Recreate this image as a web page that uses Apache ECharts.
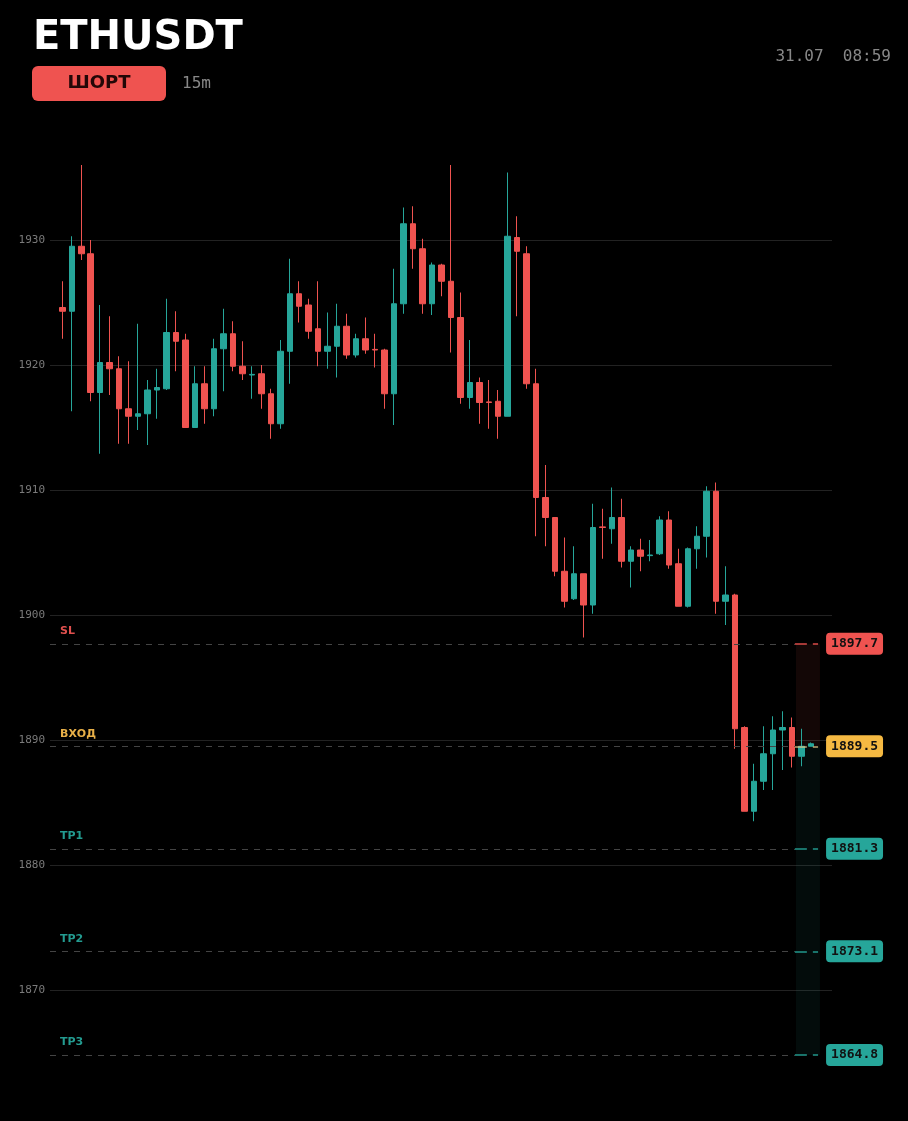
<!DOCTYPE html>
<html><head><meta charset="utf-8">
<script src="https://cdn.jsdelivr.net/npm/echarts@6/dist/echarts.min.js"></script>
<style>html,body{margin:0;padding:0;background:#000;}#c{width:908px;height:1121px;}</style>
</head><body><div id="c"></div>
<script>
const symbolName = 'ETHUSDT';
const sideText = 'ШОРТ';
const timeframe = '15m';
const stamp = '31.07  08:59';
const opens  = [1924.6,1924.3,1929.5,1928.9,1917.8,1920.2,1919.7,1916.5,1915.9,1916.1,1918.0,1918.1,1922.6,1922.0,1915.0,1918.5,1916.5,1921.3,1922.5,1919.9,
                1919.2,1919.3,1917.7,1915.3,1921.1,1925.7,1924.8,1922.9,1921.1,1921.5,1923.1,1920.8,1922.1,1921.25,1921.2,1917.7,1924.9,1931.3,1929.3,1924.9,
                1928.0,1926.7,1923.8,1917.4,1918.6,1917.05,1917.1,1915.9,1930.2,1928.9,1918.5,1909.4,1907.8,1903.5,1901.3,1903.3,1900.8,1907.05,1906.9,1907.8,
                1904.3,1905.2,1904.75,1904.9,1907.6,1904.1,1900.7,1905.3,1906.3,1909.9,1901.1,1901.6,1891.0,1884.3,1886.7,1888.9,1890.8,1891.0,1888.7,1889.5];
const closes = [1924.3,1929.5,1928.9,1917.8,1920.2,1919.7,1916.5,1915.9,1916.1,1918.0,1918.2,1922.6,1921.9,1915.0,1918.5,1916.5,1921.3,1922.5,1919.9,1919.3,
                1919.25,1917.7,1915.3,1921.1,1925.7,1924.7,1922.7,1921.1,1921.5,1923.1,1920.8,1922.1,1921.2,1921.2,1917.7,1924.9,1931.3,1929.3,1924.9,1928.0,
                1926.7,1923.8,1917.4,1918.6,1917.0,1917.0,1915.9,1930.3,1929.1,1918.5,1909.4,1907.8,1903.5,1901.1,1903.3,1900.8,1907.0,1907.0,1907.8,1904.3,
                1905.2,1904.7,1904.8,1907.6,1904.0,1900.7,1905.3,1906.3,1909.9,1901.1,1901.6,1890.9,1884.3,1886.7,1888.9,1890.8,1891.0,1888.7,1889.5,1889.7];
const lows   = [1922.1,1916.3,1928.4,1917.1,1912.9,1917.6,1913.7,1913.7,1914.8,1913.6,1915.7,1918.0,1919.5,1915.0,1915.0,1915.3,1915.9,1917.9,1919.5,1918.8,
                1917.3,1916.5,1914.1,1914.9,1918.5,1923.4,1922.1,1919.9,1919.7,1919.0,1920.5,1920.6,1920.9,1919.8,1916.5,1915.2,1924.1,1927.7,1924.1,1924.0,
                1925.5,1921.0,1916.9,1916.5,1915.3,1914.9,1914.1,1915.9,1923.9,1918.1,1906.3,1905.5,1903.1,1900.6,1901.2,1898.2,1900.1,1904.5,1905.7,1903.8,
                1902.2,1903.5,1904.3,1904.8,1903.7,1900.7,1900.6,1903.7,1904.6,1900.1,1899.2,1889.3,1884.3,1883.5,1886.0,1886.0,1887.6,1887.8,1887.9,1889.5];
const highs  = [1926.7,1930.3,1936.0,1930.0,1924.8,1923.9,1920.7,1920.3,1923.3,1918.8,1919.7,1925.3,1924.3,1922.5,1919.9,1919.9,1922.1,1924.5,1923.5,1921.9,
                1919.9,1920.0,1918.1,1922.0,1928.5,1926.7,1925.3,1926.7,1924.2,1924.9,1924.1,1922.5,1923.8,1922.5,1921.3,1927.7,1932.6,1932.7,1930.1,1928.2,
                1928.1,1936.0,1925.8,1922.0,1919.0,1918.8,1918.0,1935.4,1931.9,1929.5,1919.7,1912.0,1907.8,1906.2,1905.5,1903.3,1908.9,1908.5,1910.2,1909.3,
                1905.5,1906.1,1906.0,1907.9,1908.3,1905.3,1905.4,1907.1,1910.3,1910.6,1903.9,1901.7,1891.1,1888.1,1891.1,1891.9,1892.3,1891.8,1890.9,1889.8];
const levelNames  = ['SL','ВХОД','TP1','TP2','TP3'];
const levelValues = [1897.7,1889.5,1881.3,1873.1,1864.8];
const yTicks = [1870,1880,1890,1900,1910,1920,1930];

const UP = '#26a69a', DOWN = '#ef5350', ENTRY = '#f5b942';
const levelColors = [DOWN, ENTRY, UP, UP, UP];
const segColors = ['rgba(239,83,80,0.9)', 'rgba(235,205,140,0.8)', 'rgba(38,166,154,0.9)', 'rgba(38,166,154,0.9)', 'rgba(38,166,154,0.9)'];
const nameColors = ['#e0504e', '#e8b048', '#239b90', '#239b90', '#239b90'];

const candles = opens.map((o, i) => [i, o, closes[i], lows[i], highs[i]]);
const last = opens.length - 1;
const xMin = -1.3, xMax = last + 2.22;
const segStart = last - 1.7, segEnd = last + 0.75;
const zoneStart = last - 1.58, zoneEnd = last + 0.95;

const lineData = [];
levelValues.forEach((v, k) => {
  const col = levelColors[k];
  lineData.push([
    {coord: [xMin, v], lineStyle: {color: '#444', width: 1, type: [6, 6]},
     label: {show: true, position: 'insideStartTop', distance: [10, 7], formatter: levelNames[k],
             color: nameColors[k], fontFamily: 'DejaVu Sans', fontWeight: 'bold', fontSize: 11}},
    {coord: [segStart, v]}
  ]);
  lineData.push([
    {coord: [segStart, v], lineStyle: {color: segColors[k], width: 1.5, type: [12, 6]},
     label: {show: true, position: 'end', distance: 8, formatter: v.toFixed(1),
             color: '#111', backgroundColor: col, borderRadius: 4, padding: [4, 5, 3, 5],
             fontFamily: 'DejaVu Sans Mono', fontWeight: 'bold', fontSize: 13, lineHeight: 15}},
    {coord: [segEnd, v]}
  ]);
});

const chart = echarts.init(document.getElementById('c'), null, {renderer: 'canvas'});
chart.setOption({
  backgroundColor: '#000',
  animation: false,
  grid: {left: 50, right: 76, top: 127.5, bottom: 31},
  xAxis: {type: 'value', min: xMin, max: xMax, show: false},
  yAxis: {
    type: 'value', min: 1862, max: 1939, scale: true,
    axisLine: {show: false},
    axisTick: {show: false, customValues: yTicks},
    axisLabel: {customValues: yTicks, formatter: v => String(v), color: '#7a7a7a', fontFamily: 'DejaVu Sans Mono', fontSize: 11, margin: 5},
    splitLine: {show: true, lineStyle: {color: '#222', width: 1}}
  },
  graphic: [
    {type: 'text', left: 33, top: 19, style: {text: symbolName, fill: '#fff', font: 'bold 40px "DejaVu Sans"'}},
    {type: 'rect', shape: {x: 32, y: 66, width: 134, height: 35, r: 6}, style: {fill: DOWN}},
    {type: 'text', x: 99, y: 83.5, style: {text: sideText, fill: '#240707', font: 'bold 18px "DejaVu Sans"', textAlign: 'center', textVerticalAlign: 'middle'}},
    {type: 'text', x: 182, y: 83.5, style: {text: timeframe, fill: '#888', font: '16px "DejaVu Sans Mono"', textAlign: 'left', textVerticalAlign: 'middle'}},
    {type: 'text', x: 891, y: 57, style: {text: stamp, fill: '#888', font: '16px "DejaVu Sans Mono"', textAlign: 'right', textVerticalAlign: 'middle'}}
  ],
  series: [
    {
      type: 'line', data: [], silent: true, z: 1,
      markArea: {
        silent: true,
        data: [
          [{coord: [zoneStart, levelValues[0]], itemStyle: {color: 'rgba(239,83,80,0.08)'}}, {coord: [zoneEnd, levelValues[1]]}],
          [{coord: [zoneStart, levelValues[1]], itemStyle: {color: 'rgba(38,166,154,0.07)'}}, {coord: [zoneEnd, levelValues[4]]}]
        ]
      },
      markLine: {silent: true, symbol: ['none', 'none'], data: lineData}
    },
    {
      type: 'candlestick', z: 3,
      data: candles,
      encode: {x: 0, y: [1, 2, 3, 4]},
      barWidth: 6,
      itemStyle: {color: UP, color0: DOWN, borderColor: UP, borderColor0: DOWN, borderWidth: 1}
    }
  ]
});
</script></body></html>
